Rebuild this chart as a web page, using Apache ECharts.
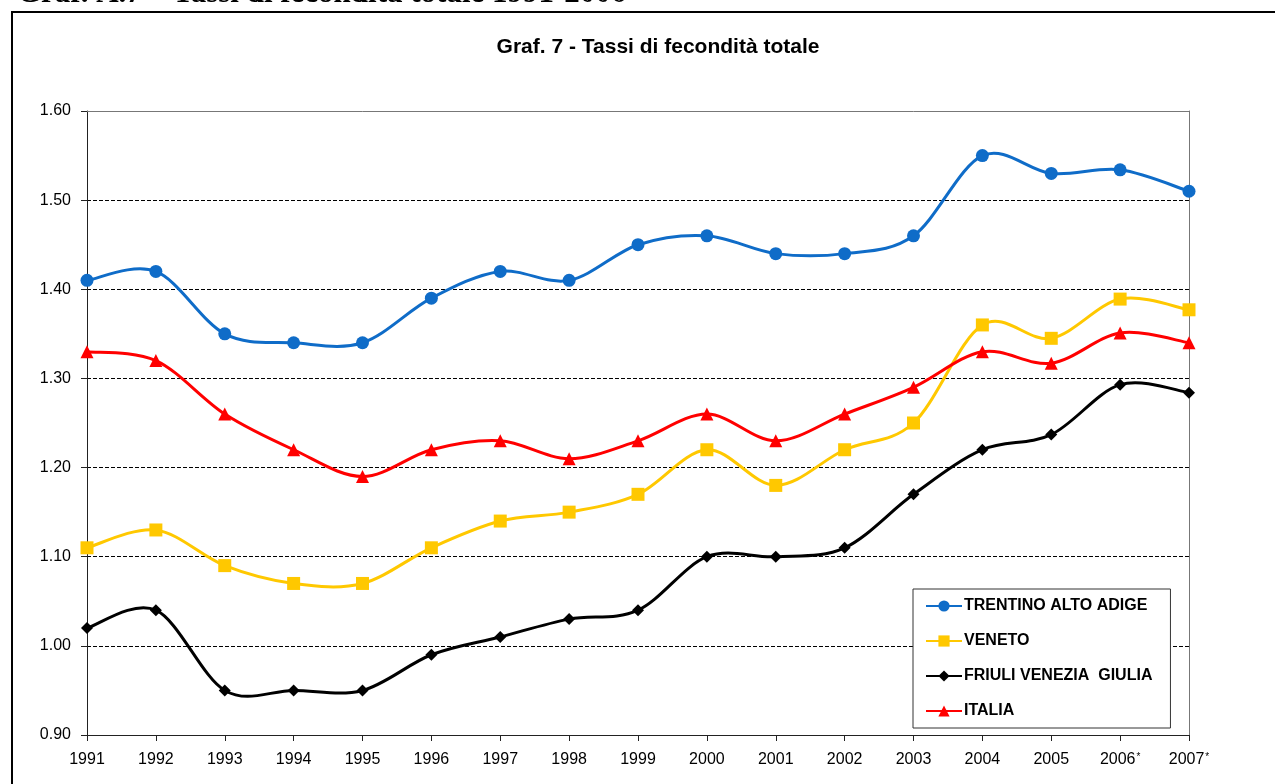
<!DOCTYPE html>
<html>
<head>
<meta charset="utf-8">
<script src="https://cdn.jsdelivr.net/npm/echarts@6/dist/echarts.min.js"></script>
<style>
  html, body { margin: 0; padding: 0; background: #fff; }
  #chart { width: 1275px; height: 784px; }
</style>
</head>
<body>
<div id="chart"></div>
<script>
// anni (2006 e 2007 stimati)
var anni = ['1991', '1992', '1993', '1994', '1995', '1996', '1997', '1998', '1999',
            '2000', '2001', '2002', '2003', '2004', '2005', '2006*', '2007*'];

var trentino = [1.41, 1.42, 1.35, 1.34, 1.34, 1.39, 1.42, 1.41, 1.45, 1.46, 1.44, 1.44, 1.46, 1.55, 1.53, 1.534, 1.51];
var veneto   = [1.11, 1.13, 1.09, 1.07, 1.07, 1.11, 1.14, 1.15, 1.17, 1.22, 1.18, 1.22, 1.25, 1.36, 1.345, 1.389, 1.377];
var friuli   = [1.02, 1.04, 0.95, 0.95, 0.95, 0.99, 1.01, 1.03, 1.04, 1.10, 1.10, 1.11, 1.17, 1.22, 1.237, 1.293, 1.284];
var italia   = [1.33, 1.32, 1.26, 1.22, 1.19, 1.22, 1.23, 1.21, 1.23, 1.26, 1.23, 1.26, 1.29, 1.33, 1.317, 1.351, 1.340];

var nomi = ['TRENTINO ALTO ADIGE', 'VENETO', 'FRIULI VENEZIA  GIULIA', 'ITALIA'];
var colori = ['#0F6CC8', '#FFC800', '#000000', '#FF0000'];

var chart = echarts.init(document.getElementById('chart'));

// solo i marcatori: la linea la disegna la serie custom (curva tipo Excel)
function marcatori(nome, dati, colore, simbolo, dim) {
    return {
        name: nome,
        type: 'line',
        data: dati,
        symbol: simbolo,
        symbolSize: dim,
        lineStyle: { color: colore, width: 3, opacity: 0 },
        itemStyle: { color: colore },
        z: 5
    };
}

// curva smussata (Catmull-Rom) attraverso le coordinate degli assi
function curva(nome, dati, colore) {
    return {
        name: nome,
        type: 'custom',
        data: dati.map(function (v, i) { return [i, v]; }),
        silent: true,
        z: 4,
        renderItem: function (params, api) {
            var i = params.dataIndex;
            var n = dati.length;
            if (i >= n - 1) return null;
            var pt = function (k) {
                k = Math.max(0, Math.min(n - 1, k));
                return api.coord([k, dati[k]]);
            };
            var p0 = pt(i - 1), p1 = pt(i), p2 = pt(i + 1), p3 = pt(i + 2);
            return {
                type: 'bezierCurve',
                shape: {
                    x1: p1[0], y1: p1[1],
                    x2: p2[0], y2: p2[1],
                    cpx1: p1[0] + (p2[0] - p0[0]) / 6,
                    cpy1: p1[1] + (p2[1] - p0[1]) / 6,
                    cpx2: p2[0] - (p3[0] - p1[0]) / 6,
                    cpy2: p2[1] - (p3[1] - p1[1]) / 6
                },
                style: { fill: null, stroke: colore, lineWidth: 3 }
            };
        }
    };
}

var option = {
    backgroundColor: '#fff',
    animation: false,
    textStyle: { fontFamily: 'Liberation Sans, Arial, sans-serif' },
    title: {
        text: 'Graf. 7 - Tassi di fecondità totale',
        left: 653,
        textAlign: 'center',
        top: 32,
        textStyle: { fontSize: 21, fontWeight: 'bold', color: '#000', fontFamily: 'Liberation Sans, Arial' }
    },
    graphic: [
        {
            type: 'rect',
            shape: { x: 12, y: 12, width: 1300, height: 800 },
            style: { fill: 'none', stroke: '#000', lineWidth: 2 },
            silent: true
        },
        {
            type: 'text',
            left: 17,
            top: -22,
            style: {
                text: 'Graf. A.7 – Tassi di fecondità totale 1991-2006',
                font: 'bold 31px "Liberation Serif", "Times New Roman", serif',
                fill: '#000'
            },
            silent: true
        }
    ],
    legend: {
        orient: 'vertical',
        left: 913,
        top: 589,
        width: 253,
        padding: [9, 18, 9, 12],
        itemWidth: 36,
        itemHeight: 14,
        itemGap: 19,
        borderColor: '#333',
        borderWidth: 1,
        backgroundColor: '#fff',
        textStyle: { fontSize: 16, fontWeight: 'bold', color: '#000', padding: [0, 0, 0, -3] },
        data: nomi.map(function (n, i) {
            return { name: n, lineStyle: { opacity: 1, width: 2, color: colori[i] } };
        })
    },
    grid: {
        left: 87,
        right: 86,
        top: 111,
        bottom: 49,
        containLabel: false
    },
    xAxis: [
        {
            type: 'category',
            data: anni,
            boundaryGap: false,
            axisLine: { lineStyle: { color: '#222', width: 1 } },
            axisTick: { show: true, length: 6, interval: 0, lineStyle: { color: '#222' } },
            axisLabel: {
                interval: 0,
                fontSize: 16,
                color: '#000',
                margin: 17,
                formatter: function (v) { return v.replace('*', '{s|*}'); },
                rich: { s: { fontSize: 10, color: '#000', verticalAlign: 'top', padding: [0, 0, 6, 1] } }
            },
            splitLine: { show: false }
        },
        {
            type: 'category',
            position: 'top',
            data: anni,
            boundaryGap: false,
            axisLine: { lineStyle: { color: '#777', width: 1 } },
            axisTick: { show: false },
            axisLabel: { show: false }
        }
    ],
    yAxis: [
        {
            type: 'value',
            min: 0.9,
            max: 1.6,
            interval: 0.1,
            axisLine: { show: true, lineStyle: { color: '#222', width: 1 } },
            axisTick: { show: true, length: 6, lineStyle: { color: '#222' } },
            axisLabel: {
                fontSize: 16,
                color: '#000',
                margin: 16,
                formatter: function (v) { return v.toFixed(2); }
            },
            splitLine: { show: true, lineStyle: { color: '#000', type: [4, 2], width: 1 } }
        },
        {
            type: 'value',
            position: 'right',
            min: 0.9,
            max: 1.6,
            interval: 0.1,
            axisLine: { show: true, lineStyle: { color: '#777', width: 1 } },
            axisTick: { show: false },
            axisLabel: { show: false },
            splitLine: { show: false }
        }
    ],
    series: [
        marcatori(nomi[0], trentino, colori[0], 'circle', 13),
        marcatori(nomi[1], veneto, colori[1], 'rect', 13),
        marcatori(nomi[2], friuli, colori[2], 'diamond', 12),
        marcatori(nomi[3], italia, colori[3], 'triangle', 13),
        curva(nomi[0], trentino, colori[0]),
        curva(nomi[1], veneto, colori[1]),
        curva(nomi[2], friuli, colori[2]),
        curva(nomi[3], italia, colori[3])
    ]
};

chart.setOption(option);
</script>
</body>
</html>
